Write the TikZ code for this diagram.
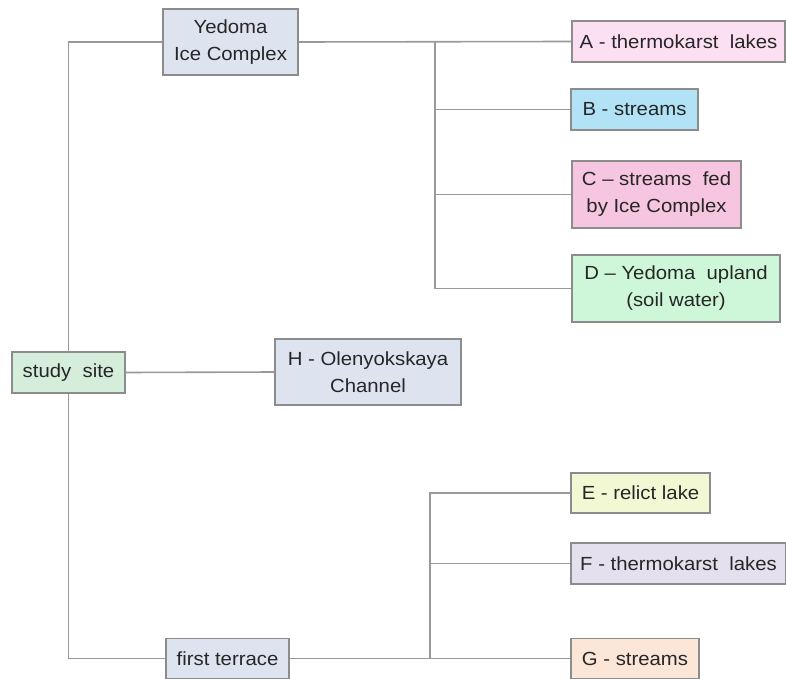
\documentclass[tikz,border=0pt]{standalone}
\usepackage{fontspec}
\setmainfont{Liberation Sans}[FakeStretch=1.07]
\definecolor{lnc}{HTML}{999999}
\definecolor{bdc}{HTML}{8C8C8C}
\definecolor{txc}{HTML}{262626}
\definecolor{cyed}{HTML}{DEE4EF}
\definecolor{cA}{HTML}{FCE0F2}
\definecolor{cB}{HTML}{B2E2F5}
\definecolor{cC}{HTML}{F6C6E0}
\definecolor{cD}{HTML}{CEF7DA}
\definecolor{cS}{HTML}{D4EEDB}
\definecolor{cE}{HTML}{F2F8D4}
\definecolor{cF}{HTML}{E4E0EE}
\definecolor{cG}{HTML}{FCE6D8}
\begin{document}
\begin{tikzpicture}[x=1pt,y=-1pt,
  box/.style={draw=bdc,line width=1.2pt,inner sep=0pt,align=center,text=txc,
    font=\fontsize{19}{27}\selectfont},
  conn/.style={draw=lnc,line width=1.6pt}]
\useasboundingbox[fill=white] (0,0) rectangle (786,679);
% connectors behind the boxes
\coordinate (j1) at (435,42);
\coordinate (j2) at (430,659);
% nodes
\node[box,fill=cyed,minimum width=135pt,minimum height=66pt] (yed) at (230.5,42) {Yedoma\\Ice Complex};
\node[box,fill=cS,minimum width=113pt,minimum height=41pt] (site) at (68.5,372.5) {study\ \ site};
\node[box,fill=cyed,minimum width=186pt,minimum height=66pt] (H) at (368,372) {H - Olenyokskaya\\Channel};
\node[box,fill=cyed,minimum width=123pt,minimum height=40pt] (ft) at (227.5,658.5) {first terrace};
\node[box,fill=cA,minimum width=213pt,minimum height=41pt] (A) at (678.5,41.5) {A - thermokarst\ \ lakes};
\node[box,fill=cB,minimum width=127pt,minimum height=41pt] (B) at (634.5,109.5) {B - streams};
\node[box,fill=cC,minimum width=169pt,minimum height=67pt] (C) at (656.5,194.5) {C -- streams\ \ fed\\by Ice Complex};
\node[box,fill=cD,minimum width=208pt,minimum height=67pt] (D) at (676,288.5) {D -- Yedoma\ \ upland\\(soil water)};
\node[box,fill=cE,minimum width=139pt,minimum height=40pt] (E) at (640.5,493) {E - relict lake};
\node[box,fill=cF,minimum width=215pt,minimum height=41pt] (F) at (678.5,563.5) {F - thermokarst\ \ lakes};
\node[box,fill=cG,minimum width=128pt,minimum height=40pt] (G) at (635,658.5) {G - streams};
% connectors
\draw[conn] (site.north) |- (yed.west);
\draw[conn] (site.south) |- (ft.west);
\draw[conn] (site.east) -- (H.west);
\draw[conn] (yed.east) -- (A.west);
\draw[conn] (j1) |- (D.west);
\draw[conn] (j1 |- B.west) -- (B.west);
\draw[conn] (j1 |- C.west) -- (C.west);
\draw[conn] (ft.east) -- (G.west);
\draw[conn] (j2) |- (E.west);
\draw[conn] (j2 |- F.west) -- (F.west);
\end{tikzpicture}
\end{document}
